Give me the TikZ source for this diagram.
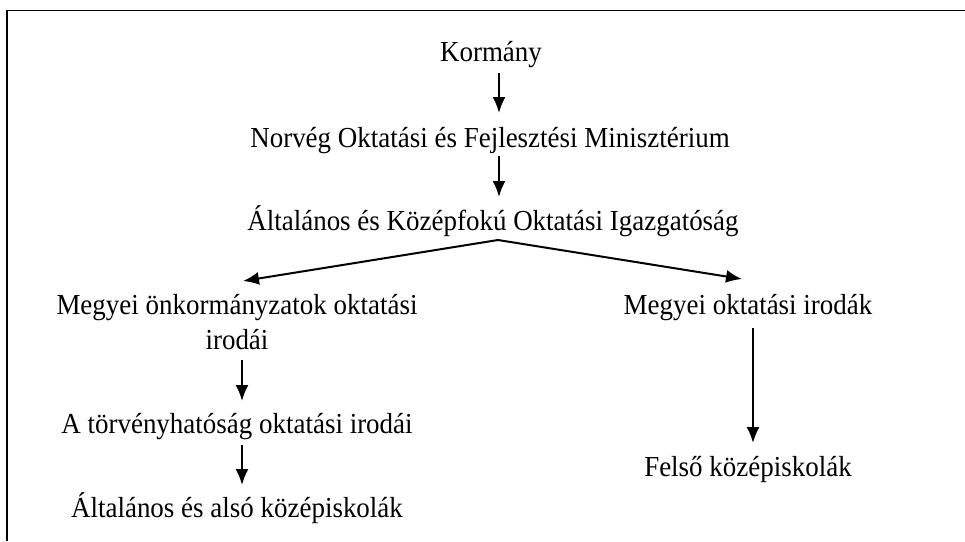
\documentclass[tikz,border=0pt]{standalone}
\usepackage{fontspec}
\setmainfont{Liberation Serif}[FakeStretch=0.93]
\usetikzlibrary{arrows.meta}
\begin{document}
\begin{tikzpicture}[x=1pt,y=-1pt,
  lbl/.style={anchor=base,inner sep=0pt,font=\fontsize{29pt}{35pt}\selectfont,align=center},
  arr/.style={line width=2pt,-{Latex[length=16pt,width=13pt]}}]
\useasboundingbox (0,0) rectangle (965,541);
\draw[line width=1.5pt] (7,541) -- (7,10.5) -- (965,10.5);
\node[lbl] (k) at (491,61) {Kormány};
\node[lbl] (n) at (490,147) {Norvég Oktatási és Fejlesztési Minisztérium};
\node[lbl] (ig) at (493,230) {Általános és Középfokú Oktatási Igazgatóság};
\node[lbl] (mo) at (237,349) {Megyei önkormányzatok oktatási\\irodái};
\node[lbl] (t) at (237,433) {A törvényhatóság oktatási irodái};
\node[lbl] (aa) at (237,517) {Általános és alsó középiskolák};
\node[lbl] (mi) at (748,314) {Megyei oktatási irodák};
\node[lbl] (f) at (748,476) {Felső középiskolák};
\coordinate (k-o) at (499,73);  \coordinate (n-i) at (499,113);
\coordinate (n-o) at (499,156); \coordinate (ig-i) at (499,197);
\coordinate (ig-o) at (498,240);
\coordinate (mo-i) at (243,281); \coordinate (mi-i) at (742,279);
\coordinate (mo-o) at (242,360); \coordinate (t-i) at (242,401);
\coordinate (t-o) at (242,445);  \coordinate (aa-i) at (242,485);
\coordinate (mi-o) at (753,328); \coordinate (f-i) at (753,443);
\draw[arr] (k-o) -- (n-i);
\draw[arr] (n-o) -- (ig-i);
\draw[arr] (ig-o) -- (mo-i);
\draw[arr] (ig-o) -- (mi-i);
\draw[arr] (mo-o) -- (t-i);
\draw[arr] (t-o) -- (aa-i);
\draw[arr] (mi-o) -- (f-i);
\end{tikzpicture}
\end{document}
